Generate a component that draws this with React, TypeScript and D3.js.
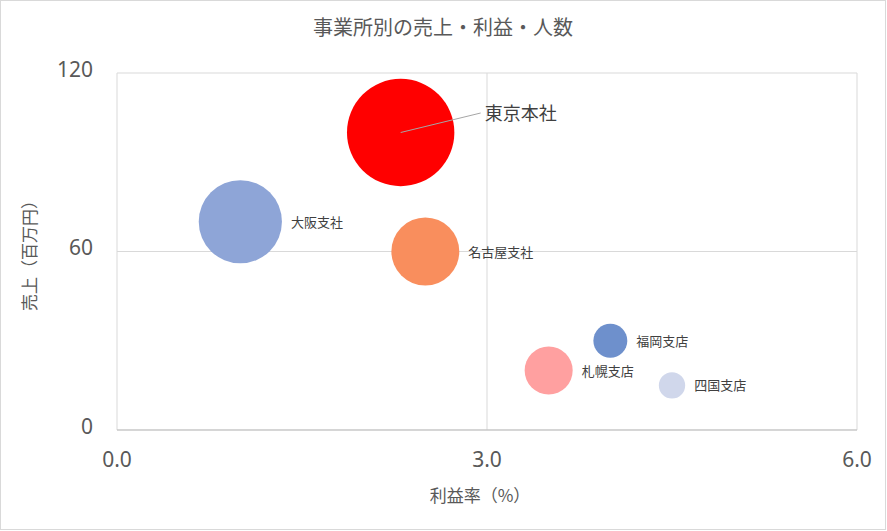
import React from "react";
import * as d3 from "d3";

const offices = ["東京本社", "大阪支社", "名古屋支社", "福岡支店", "札幌支店", "四国支店"];
const profitRate = [2.3, 1.0, 2.5, 4.0, 3.5, 4.5];
const sales = [100, 70, 60, 30, 20, 15];
const headcount = [500, 300, 200, 50, 100, 30];
const colors = ["#FF0000", "#8EA5D7", "#F98E5D", "#6E90CC", "#FFA0A0", "#D0D7EB"];
const xTicks = [0, 3, 6];
const yTicks = [0, 60, 120];

const W = 887;
const H = 531;
const M = { left: 117, right: 857, top: 73, bottom: 430 };
const GRAY = "#595959";
const FONT = "'Noto Sans CJK JP', 'Noto Sans', sans-serif";

export default function App() {
  const x = d3.scaleLinear().domain([0, 6]).range([M.left, M.right]);
  const y = d3.scaleLinear().domain([0, 120]).range([M.bottom, M.top]);
  const r = d3.scaleSqrt().domain([0, 500]).range([0, 53.7]);
  const fmtX = d3.format(".1f");

  const data = offices.map((name, i) => ({
    name,
    cx: x(profitRate[i]),
    cy: y(sales[i]),
    rr: r(headcount[i]),
    color: colors[i],
    big: i === 0,
  }));

  return (
    <div style={{ position: "absolute", left: 0, top: 0, width: W, height: H }}>
      <svg width={W} height={H} style={{ display: "block", background: "#fff" }}>
        <rect x={0.5} y={0.5} width={W - 2} height={H - 2} fill="#fff" stroke="#D9D9D9" />
        {/* gridlines */}
        {xTicks.map((t) => (
          <line key={"gx" + t} x1={x(t)} x2={x(t)} y1={M.top} y2={M.bottom} stroke="#D9D9D9" strokeWidth={1} />
        ))}
        {yTicks.map((t) => (
          <line key={"gy" + t} x1={M.left} x2={M.right} y1={y(t)} y2={y(t)} stroke="#D9D9D9" strokeWidth={1} />
        ))}
        <line x1={M.left} x2={M.right} y1={M.bottom} y2={M.bottom} stroke="#BFBFBF" strokeWidth={1} />

        {/* title */}
        <text x={443} y={35} textAnchor="middle" fontFamily={FONT} fontSize={20} fill={GRAY}>
          事業所別の売上・利益・人数
        </text>

        {/* y tick labels */}
        {yTicks.map((t) => (
          <text key={"ty" + t} x={93} y={y(t) + 3.5} textAnchor="end" fontFamily="'Noto Sans', sans-serif" fontSize={21} fill={GRAY}>
            {t}
          </text>
        ))}
        {/* x tick labels */}
        {xTicks.map((t) => (
          <text key={"tx" + t} x={x(t)} y={467} textAnchor="middle" fontFamily="'Noto Sans', sans-serif" fontSize={21} fill={GRAY}>
            {fmtX(t)}
          </text>
        ))}

        {/* axis titles */}
        <text x={480} y={502} textAnchor="middle" fontFamily={FONT} fontSize={17} fill={GRAY}>
          利益率（%）
        </text>
        <text transform={`translate(36, ${(M.top + M.bottom) / 2}) rotate(-90)`} textAnchor="middle" fontFamily={FONT} fontSize={17} fill={GRAY}>
          売上（百万円）
        </text>

        {/* bubbles */}
        {data.map((d) => (
          <circle key={d.name} cx={d.cx} cy={d.cy} r={d.rr} fill={d.color} />
        ))}

        {/* labels */}
        {data.map((d) =>
          d.big ? (
            <g key={"l" + d.name}>
              <line x1={d.cx} y1={d.cy} x2={d.cx + 80} y2={d.cy - 19.5} stroke="#A6A6A6" strokeWidth={1} />
              <text x={d.cx + 84} y={d.cy - 13} fontFamily={FONT} fontSize={18} fill="#404040">
                {d.name}
              </text>
            </g>
          ) : (
            <text key={"l" + d.name} x={d.cx + d.rr + 9} y={d.cy + 5} fontFamily={FONT} fontSize={13} fill="#404040">
              {d.name}
            </text>
          )
        )}
      </svg>
    </div>
  );
}
